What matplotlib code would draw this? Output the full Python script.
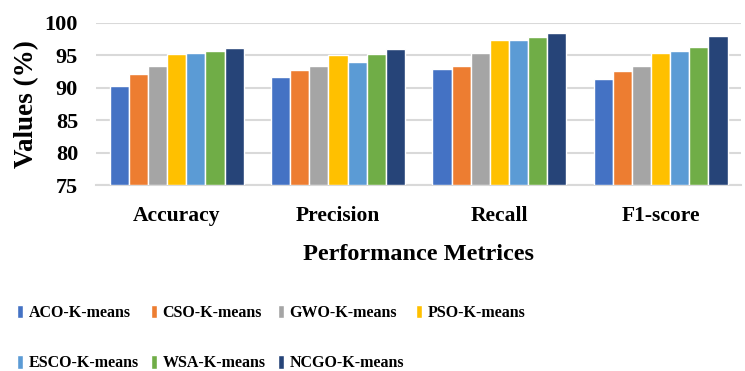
import matplotlib
matplotlib.use("Agg")
import matplotlib.pyplot as plt
import numpy as np

categories = ["Accuracy", "Precision", "Recall", "F1-score"]
methods = ["ACO-K-means", "CSO-K-means", "GWO-K-means", "PSO-K-means",
           "ESCO-K-means", "WSA-K-means", "NCGO-K-means"]
aco = [90.3, 91.7, 92.8, 91.4]
cso = [92.1, 92.7, 93.3, 92.5]
gwo = [93.3, 93.3, 95.4, 93.4]
pso = [95.1, 95.0, 97.4, 95.4]
esco = [95.3, 94.0, 97.4, 95.6]
wsa = [95.7, 95.2, 97.8, 96.2]
ncgo = [96.1, 96.0, 98.4, 98.0]
series = [aco, cso, gwo, pso, esco, wsa, ncgo]
colors = ["#4472C4", "#ED7D31", "#A5A5A5", "#FFC000", "#5B9BD5", "#70AD47", "#264478"]

plt.rcParams['font.family'] = ['Liberation Serif', 'DejaVu Serif']
plt.rcParams['font.weight'] = 'bold'

fig = plt.figure(figsize=(7.45, 3.71), dpi=100)
ax = fig.add_axes([0.129, 0.501, 0.866, 0.438])

x = np.arange(len(categories))
n = len(series)
slot = 0.83 / n
handles = []
for i, (vals, c, m) in enumerate(zip(series, colors, methods)):
    b = ax.bar(x - 0.415 + slot * (i + 0.5), np.array(vals) - 75, bottom=75, width=slot,
               color=c, edgecolor='white', linewidth=1.0, label=m, zorder=3)
    handles.append(b)

ax.set_ylim(75, 100)
ax.set_xlim(-0.5, 3.5)
ax.set_yticks(range(75, 101, 5))
ax.set_xticks(x)
ax.set_xticklabels(categories)
ax.grid(axis='y', color='#D9D9D9', linewidth=1.5, zorder=0)
for s in ['top', 'right', 'left']:
    ax.spines[s].set_visible(False)
ax.spines['bottom'].set_color('#D9D9D9')
ax.spines['bottom'].set_linewidth(1.5)
ax.tick_params(length=0)
ax.tick_params(axis='x', pad=15, labelsize=15.5)
ax.tick_params(axis='y', pad=13, labelsize=16)
for lab in ax.get_xticklabels() + ax.get_yticklabels():
    lab.set_fontweight('bold')
ax.set_ylabel("Values (%)", fontsize=19.5, fontweight='bold', labelpad=4)
ax.set_xlabel("Performance Metrices", fontsize=17.5, fontweight='bold', labelpad=13)

order = [0, 4, 1, 5, 2, 6, 3]
fig.legend([handles[k] for k in order], [methods[k] for k in order],
           loc='lower left', bbox_to_anchor=(0.003, -0.04), ncol=4, frameon=False,
           prop={'size': 11.5, 'weight': 'bold'}, handlelength=0.4, handleheight=0.9,
           handletextpad=0.35, columnspacing=0.75, labelspacing=2.15)

fig.savefig("out.png", dpi=100)
